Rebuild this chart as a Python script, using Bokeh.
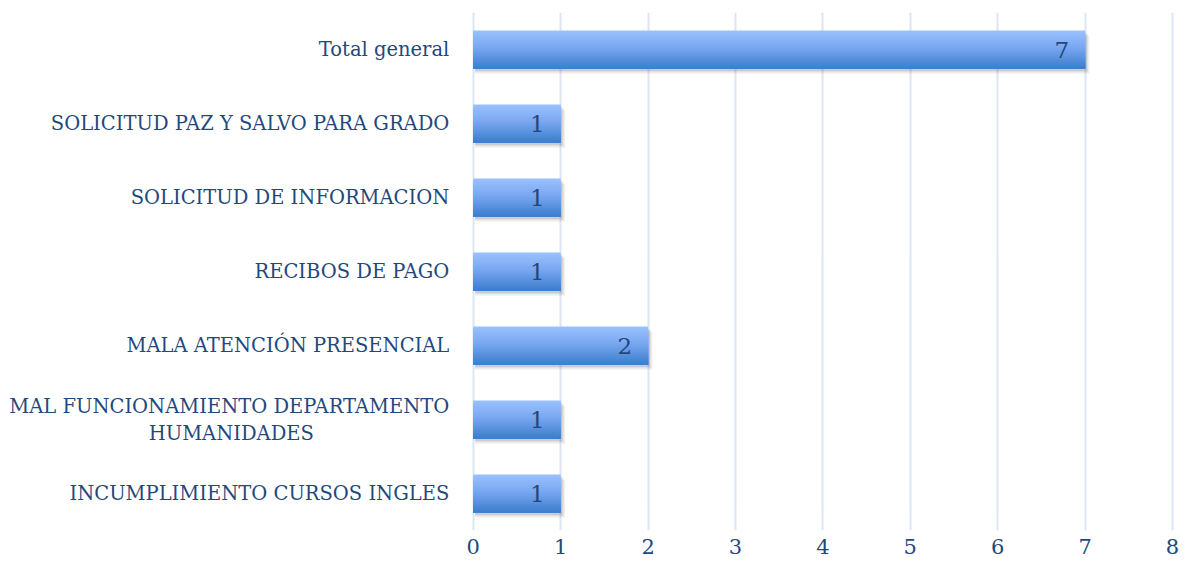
import numpy as np
from bokeh.plotting import figure
from bokeh.models import Range1d, FixedTicker, ColumnDataSource
from bokeh.core.properties import value
from bokeh.embed import file_html
from bokeh.resources import INLINE

# ---- data (top to bottom as in the chart) ----
categories = [
    "Total general",
    "SOLICITUD PAZ Y SALVO PARA GRADO",
    "SOLICITUD DE INFORMACION",
    "RECIBOS DE PAGO",
    "MALA ATENCIÓN PRESENCIAL",
    "MAL FUNCIONAMIENTO DEPARTAMENTO\nHUMANIDADES",
    "INCUMPLIMIENTO CURSOS INGLES",
]
counts = [7, 1, 1, 1, 2, 1, 1]
x_ticks = [0, 1, 2, 3, 4, 5, 6, 7, 8]

TXT = "#1F497D"
FONT = "DejaVu Serif"
GRID = "#DCE6F2"

n = len(categories)
ypos = np.array([n - 1 - i + 0.5 for i in range(n)])
vals = np.array(counts, dtype=float)
H = 0.514

p = figure(frame_width=1168, frame_height=518,
           x_range=Range1d(-5.318, 8.0458), y_range=Range1d(0, n),
           output_backend="svg", toolbar_location=None,
           min_border_left=8, min_border_right=8, min_border_top=12,
           min_border_bottom=34,
           background_fill_color="white", border_fill_color="white")
p.outline_line_color = None
p.yaxis.visible = False
p.ygrid.visible = False
p.xaxis.ticker = FixedTicker(ticks=x_ticks)
p.xaxis.axis_line_color = None
p.xaxis.major_tick_line_color = None
p.xaxis.minor_tick_line_color = None
p.xaxis.major_label_standoff = 2
p.xaxis.major_label_text_font = FONT
p.xaxis.major_label_text_font_size = "21px"
p.xaxis.major_label_text_color = TXT
p.xgrid.grid_line_color = GRID
p.xgrid.grid_line_width = 2

# ---- shadow (soft, layered) ----
for k, (dx, dy, a) in enumerate([(0.05, 0.07, 0.06), (0.035, 0.05, 0.07), (0.02, 0.035, 0.08)]):
    p.quad(left=np.full(n, 0.02), right=vals + dx,
           top=ypos + H / 2 - dy, bottom=ypos - H / 2 - dy,
           fill_color="black", fill_alpha=a, line_color=None)

# ---- gradient bars (stacked overlapping quads) ----
N = 28
stops_t = [0.0, 0.45, 1.0]
stops_c = [(152, 192, 255), (122, 167, 240), (60, 126, 206)]
rows = dict(left=[], right=[], top=[], bottom=[], color=[])
for k in range(N):
    t = k / (N - 1)
    rgb = [int(round(np.interp(t, stops_t, [c[j] for c in stops_c]))) for j in range(3)]
    col = "#%02x%02x%02x" % tuple(rgb)
    for i in range(n):
        rows["left"].append(0.0)
        rows["right"].append(vals[i])
        rows["top"].append(ypos[i] + H / 2 - k * H / N)
        rows["bottom"].append(ypos[i] - H / 2)
        rows["color"].append(col)
p.quad(left="left", right="right", top="top", bottom="bottom",
       fill_color="color", line_color=None, source=ColumnDataSource(rows))

# ---- value labels ----
p.text(x=vals, y=ypos, text=[str(c) for c in counts], x_offset=-16,
       text_align="right", text_baseline="middle",
       text_font=value(FONT), text_font_size="23px", text_color=TXT)

# ---- category labels ----
single_y, single_t = [], []
ml_first_y, ml_first_t, ml_rest_y, ml_rest_t = [], [], [], []
for i, c in enumerate(categories):
    parts = c.split("\n")
    if len(parts) == 1:
        single_y.append(ypos[i]); single_t.append(c)
    else:
        ml_first_y.append(ypos[i] + 13 / 74); ml_first_t.append(parts[0])
        ml_rest_y.append(ypos[i] - 14 / 74); ml_rest_t.append(parts[1])

p.text(x=np.zeros(len(single_y)), y=single_y, text=single_t, x_offset=-24,
       text_align="right", text_baseline="middle",
       text_font=value(FONT), text_font_size="19.5px", text_color=TXT)
p.text(x=np.zeros(len(ml_first_y)), y=ml_first_y, text=ml_first_t, x_offset=-24,
       text_align="right", text_baseline="middle",
       text_font=value(FONT), text_font_size="19.5px", text_color=TXT)
p.text(x=np.zeros(len(ml_rest_y)), y=ml_rest_y, text=ml_rest_t, x_offset=-242,
       text_align="center", text_baseline="middle",
       text_font=value(FONT), text_font_size="19.5px", text_color=TXT)

open("out.html", "w").write(file_html(p, INLINE))
